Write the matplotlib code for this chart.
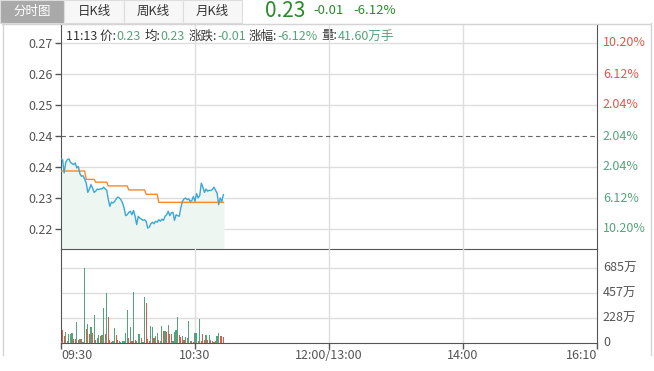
import numpy as np
import matplotlib.pyplot as plt
from matplotlib.patches import Rectangle

plt.rcParams['font.family'] = ['Noto Sans CJK SC', 'DejaVu Sans']

# ---- data ----
TABS = ['分时图', '日K线', '周K线', '月K线']
LAST_PRICE = '0.23'
LAST_CHANGE = '-0.01'
LAST_PCT = '-6.12%'

INFO_TIME = '11:13'
INFO_PRICE = '0.23'
INFO_AVG = '0.23'
INFO_CHG = '-0.01'
INFO_PCT = '-6.12%'
INFO_VOL = '41.60万手'

TIME_TICKS = [0, 85, 170, 255, 340]
TIME_LABELS = ['09:30', '10:30', '12:00/13:00', '14:00', '16:10']

PRICE_TICKS = [0.28, 0.27, 0.26, 0.25, 0.24, 0.23, 0.22]
PRICE_LABELS = ['0.27', '0.26', '0.25', '0.24', '0.24', '0.23', '0.22']
PCT_LABELS = ['10.20%', '6.12%', '2.04%', '2.04%', '2.04%', '6.12%', '10.20%']
BASE_LEVEL = 0.25   # dashed pre-close line

VOL_TICKS = [0, 228.4, 456.8, 685.2]
VOL_LABELS = ['0', '228万', '457万', '685万']

price = [0.2426, 0.2424, 0.2381, 0.2415, 0.2424, 0.2426, 0.2415, 0.2411, 0.2408, 0.2413,
         0.2397, 0.2402, 0.2378, 0.2370, 0.2372, 0.2361, 0.2348, 0.2318, 0.2329, 0.2343,
         0.2332, 0.2318, 0.2322, 0.2329, 0.2327, 0.2330, 0.2329, 0.2335, 0.2329, 0.2325,
         0.2295, 0.2273, 0.2287, 0.2284, 0.2289, 0.2297, 0.2303, 0.2300, 0.2295, 0.2284,
         0.2268, 0.2243, 0.2246, 0.2254, 0.2257, 0.2246, 0.2260, 0.2241, 0.2214, 0.2241,
         0.2235, 0.2232, 0.2228, 0.2230, 0.2225, 0.2203, 0.2206, 0.2217, 0.2222, 0.2217,
         0.2225, 0.2222, 0.2230, 0.2225, 0.2232, 0.2228, 0.2241, 0.2246, 0.2257, 0.2243,
         0.2252, 0.2254, 0.2228, 0.2246, 0.2243, 0.2241, 0.2268, 0.2289, 0.2297, 0.2300,
         0.2295, 0.2297, 0.2289, 0.2292, 0.2305, 0.2289, 0.2314, 0.2300, 0.2308, 0.2348,
         0.2335, 0.2318, 0.2329, 0.2322, 0.2325, 0.2324, 0.2327, 0.2335, 0.2325, 0.2316,
         0.2278, 0.2300, 0.2289, 0.2311]

avg_price = [0.2387] * 16 + [0.2360] * 6 + [0.2351] * 8 + [0.2339] * 13 + \
            [0.2326] * 11 + [0.2312] * 8 + [0.2286] * 42

volume = [20, 119, 67, 97, 15, 79, 85, 91, 37, 37,
          195, 27, 37, 33, 12, 685, 128, 170, 79, 149,
          91, 256, 27, 43, 73, 61, 73, 316, 79, 453,
          240, 27, 12, 15, 134, 73, 27, 18, 12, 18,
          15, 88, 301, 49, 146, 20, 462, 27, 15, 79,
          85, 43, 12, 423, 362, 37, 18, 155, 146, 43,
          67, 88, 27, 15, 155, 110, 110, 97, 164, 79,
          79, 15, 103, 119, 237, 73, 58, 67, 27, 58,
          43, 201, 15, 18, 12, 88, 88, 18, 219, 20,
          79, 27, 73, 27, 73, 27, 18, 12, 15, 67,
          88, 67, 67, 58]
# r = up minute, g = down minute
vol_dir = ['r', 'r', 'r', 'g', 'g', 'g', 'g', 'g', 'r', 'r',
           'g', 'r', 'g', 'r', 'g', 'g', 'r', 'g', 'r', 'g',
           'r', 'g', 'r', 'g', 'g', 'r', 'g', 'g', 'r', 'g',
           'r', 'r', 'r', 'g', 'g', 'r', 'r', 'g', 'g', 'g',
           'g', 'g', 'g', 'r', 'g', 'r', 'g', 'r', 'g', 'g',
           'g', 'r', 'g', 'g', 'r', 'r', 'r', 'g', 'g', 'r',
           'g', 'g', 'r', 'g', 'g', 'r', 'g', 'r', 'g', 'r',
           'r', 'g', 'g', 'g', 'g', 'r', 'r', 'g', 'r', 'g',
           'g', 'g', 'g', 'r', 'r', 'g', 'g', 'r', 'g', 'r',
           'r', 'r', 'g', 'r', 'g', 'r', 'g', 'r', 'g', 'g',
           'g', 'r', 'r', 'r']

RED = '#e2574c'
GREEN = '#55a37b'
GRID = '#dedede'
AXIS = '#555555'

fig = plt.figure(figsize=(6.54, 3.71), dpi=100)

# background axes in pixel coordinates for tabs, frame and header text
bg = fig.add_axes([0, 0, 1, 1], zorder=0)
bg.set_xlim(0, 654)
bg.set_ylim(371, 0)
bg.axis('off')

tab_edges = [0, 64, 124, 183, 242]
for k, name in enumerate(TABS):
    x0, x1 = tab_edges[k], tab_edges[k + 1]
    active = (k == 0)
    bg.add_patch(Rectangle((x0, 0), x1 - x0, 23,
                           facecolor='#a9a9a9' if active else '#f7f7f7',
                           edgecolor='#dddddd', lw=0.8))
    bg.text((x0 + x1) / 2, 11.5, name, ha='center', va='center', fontsize=9,
            color='white' if active else '#333333')

bg.text(265, 11, LAST_PRICE, fontsize=15, color='#2b8a2b', va='center', ha='left')
bg.text(313, 11, LAST_CHANGE, fontsize=9.5, color='#2b8a2b', va='center', ha='left')
bg.text(353, 11, LAST_PCT, fontsize=9.5, color='#2b8a2b', va='center', ha='left')

bg.plot([2, 650], [23.5, 23.5], color='#d4d4d4', lw=1)
bg.plot([2.5, 2.5], [23, 355], color='#d4d4d4', lw=1)
bg.plot([650.5, 650.5], [23, 355], color='#d4d4d4', lw=1)

# ---- price panel ----
ax_p = fig.add_axes([61 / 654, 1 - 249 / 371, 536 / 654, 225 / 371], zorder=2)
ax_v = fig.add_axes([61 / 654, 1 - 343 / 371, 536 / 654, 94 / 371], zorder=2)

x = np.arange(len(price))
y_bottom = 0.24 - 82 / 3100
y_top = 0.24 + 143 / 3100

ax_p.set_facecolor('none')
ax_p.set_xlim(0, 340)
ax_p.set_ylim(y_bottom, y_top)
ax_p.fill_between(x, price, y_bottom, color='#eef6f1', zorder=1)
for v in PRICE_TICKS:
    if v == BASE_LEVEL:
        ax_p.axhline(v, color='#666666', lw=0.8, ls=(0, (4, 3)), zorder=2)
    else:
        ax_p.axhline(v, color=GRID, lw=1, zorder=0.5)
for t in TIME_TICKS[1:-1]:
    ax_p.axvline(t, color=GRID, lw=1, zorder=0.5)
    ax_v.axvline(t, color=GRID, lw=1, zorder=0.5)
ax_p.plot(x, avg_price, color='#f5892b', lw=1, zorder=3)
ax_p.plot(x, price, color='#3aa8d8', lw=1, zorder=4)

ax_p.set_yticks(PRICE_TICKS)
ax_p.set_yticklabels(PRICE_LABELS, fontsize=9, color=AXIS)
ax_p.tick_params(axis='y', length=4, width=1, color=AXIS, pad=2)
ax_p.set_xticks([])
for lbl, v, c in zip(PCT_LABELS, PRICE_TICKS, [RED] * 3 + [GREEN] * 4):
    ax_p.text(1.011, v, lbl, color=c, fontsize=9, va='center', ha='left',
              transform=ax_p.get_yaxis_transform())
for s in ['left', 'right', 'bottom']:
    ax_p.spines[s].set_color(AXIS)
ax_p.spines['top'].set_color('#d4d4d4')

# header info line with coloured values
parts = [(INFO_TIME + ' 价:', '#333333', 0), (INFO_PRICE, GREEN, 0),
         ('均:', '#333333', 4), (INFO_AVG, GREEN, 0),
         ('涨跌:', '#333333', 4), (INFO_CHG, GREEN, 0),
         ('涨幅:', '#333333', 3), (INFO_PCT, GREEN, 0),
         ('量:', '#333333', 4), (INFO_VOL, GREEN, 0)]
renderer = fig.canvas.get_renderer()
cx = 66
for s, c, gap in parts:
    cx += gap
    t = bg.text(cx, 36, s, color=c, fontsize=9, va='center', ha='left', zorder=5)
    cx = t.get_window_extent(renderer=renderer).x1

# ---- volume panel ----
ax_v.set_facecolor('none')
ax_v.set_xlim(0, 340)
ax_v.set_ylim(0, 858)
for v in VOL_TICKS[1:]:
    ax_v.axhline(v, color=GRID, lw=1, zorder=0.5)
ax_v.bar(x, volume, width=0.75, color=[RED if d == 'r' else GREEN for d in vol_dir], zorder=3)
ax_v.set_yticks([])
for lbl, v in zip(VOL_LABELS, VOL_TICKS):
    ax_v.text(1.011, v, lbl, color=AXIS, fontsize=9, va='center', ha='left',
              transform=ax_v.get_yaxis_transform())
ax_v.set_xticks(TIME_TICKS)
ax_v.set_xticklabels(TIME_LABELS, fontsize=9, color=AXIS)
ax_v.tick_params(axis='x', length=4, width=1, color=AXIS, pad=0.5)
xl = ax_v.get_xticklabels()
xl[0].set_ha('left')
xl[-1].set_ha('right')
ax_v.spines['top'].set_visible(False)
for s in ['left', 'right', 'bottom']:
    ax_v.spines[s].set_color(AXIS)

fig.savefig('out.png', dpi=100)
